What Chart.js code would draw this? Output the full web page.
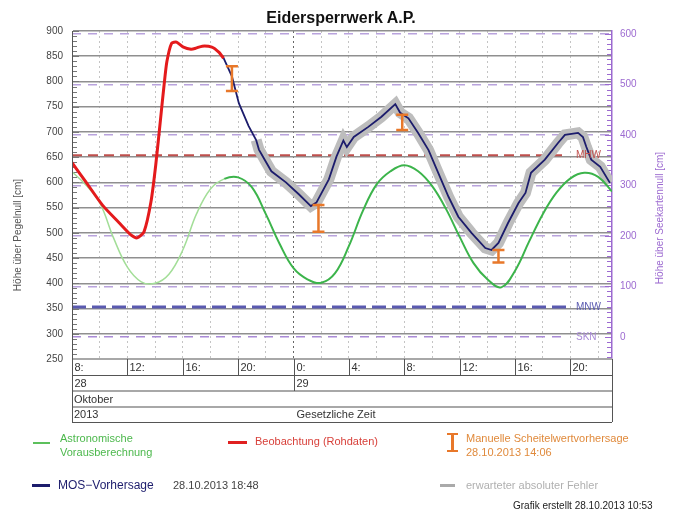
<!DOCTYPE html>
<html>
<head>
<meta charset="utf-8">
<title>Eidersperrwerk A.P.</title>
<script src="https://cdn.jsdelivr.net/npm/chart.js@4.4.1/dist/chart.umd.min.js"></script>
<style>
  body { margin: 0; background: #fff; font-family: "Liberation Sans", Arial, sans-serif; }
  #wrap { position: relative; width: 686px; height: 511px; overflow: hidden; }
  #wrap canvas { position: absolute; left: 0; top: 0; }
  .txt { position: absolute; white-space: nowrap; font-size: 11px; line-height: 14px; }
  .sw { position: absolute; }
</style>
</head>
<body>
<div id="wrap">
  <canvas id="chart" width="686" height="511"></canvas>
  <div class="txt" style="left:0; width:682px; top:9px; text-align:center; font-size:16px; line-height:18px; font-weight:bold; color:#111;">Eidersperrwerk A.P.</div>

  <div class="sw" style="left:33px; top:442px; width:17px; height:2px; background:#5cc05c;"></div>
  <div class="txt" style="left:60px; top:431px; color:#4cb84c;">Astronomische<br>Vorausberechnung</div>

  <div class="sw" style="left:228px; top:441px; width:19px; height:3px; background:#e02020;"></div>
  <div class="txt" style="left:255px; top:434px; color:#d8403a;">Beobachtung (Rohdaten)</div>

  <div class="sw" style="left:447px; top:433px; width:11px; height:2px; background:#e8782a;"></div>
  <div class="sw" style="left:451px; top:433px; width:3px; height:19px; background:#e8782a;"></div>
  <div class="sw" style="left:447px; top:450px; width:11px; height:2px; background:#e8782a;"></div>
  <div class="txt" style="left:466px; top:431px; color:#e08a3c;">Manuelle Scheitelwertvorhersage<br>28.10.2013 14:06</div>

  <div class="sw" style="left:32px; top:484px; width:18px; height:3px; background:#1c1c6c;"></div>
  <div class="txt" style="left:58px; top:478px; color:#1c1c6c; font-size:12px;">MOS−Vorhersage</div>
  <div class="txt" style="left:173px; top:478px; color:#444;">28.10.2013 18:48</div>

  <div class="sw" style="left:440px; top:484px; width:15px; height:3px; background:#aaa;"></div>
  <div class="txt" style="left:466px; top:478px; color:#b0b0b0;">erwarteter absoluter Fehler</div>

  <div class="txt" style="left:513px; top:499px; color:#222; font-size:10px;">Grafik erstellt 28.10.2013 10:53</div>
</div>

<script>
'use strict'

// hours counted from 28.10.2013 00:00
let astroHours = [8, 9, 10, 11, 12, 13, 14, 15, 16, 17, 18, 19, 20, 21, 22, 23, 24, 25, 26, 27,
    28, 29, 30, 31, 32, 33, 34, 35, 36, 37, 38, 39, 40, 41, 42, 43, 44, 45, 46, 47];
let astroLevels = [621, 595, 560, 490, 432, 403, 400, 418, 466, 538, 587, 607, 610, 590, 537, 478, 430, 408, 401, 420,
    474, 543, 596, 622, 634, 622, 593, 548, 492, 440, 408, 392, 425, 482, 537, 580, 608, 619, 611, 582];

let obsHours = [8, 9, 10.2, 11.4, 12.25, 12.7, 13.2, 13.7, 14.05, 14.4, 14.65, 14.85, 15.2, 15.55,
    16.05, 16.6, 16.95, 17.4, 18.1, 18.6, 18.95];
let obsLevels = [639, 601, 555, 520, 496, 490, 502, 561, 635, 727, 793, 839, 876, 878,
    868, 864, 866, 870, 868, 858, 846];

let mosHours = [18.95, 19.55, 20.05, 20.75, 21.3, 21.5, 22, 22.4, 23.45, 24.4, 25.25, 25.65, 26.55, 27.1,
    27.6, 27.85, 28.35, 29.4, 30.35, 31.35, 31.7, 32.3, 33, 33.75, 34.45, 35.2, 35.9, 36.85, 37.85, 38.3,
    38.8, 39.5, 40.25, 40.75, 41.15, 42.15, 43.1, 43.6, 44.55, 44.9, 45.15, 45.5, 46.15, 46.85];
let mosLevels = [846, 810, 757, 712, 684, 665, 641, 622, 600, 576, 553, 560, 606, 651,
    683, 670, 690, 710, 730, 755, 738, 727, 698, 664, 619, 571, 532, 500, 470, 466,
    480, 520, 559, 579, 619, 645, 678, 694, 698, 690, 670, 645, 631, 599];
let errorFromHour = 21.3;

let manualHours = [19.55, 25.8, 31.85, 38.8];
let manualLow = [781, 502, 704, 441];
let manualHigh = [830, 555, 734, 466];

let refNames = ['MHW', 'MNW', 'SKN'];
let refLevels = [654, 353, 0];
let refAxes = ['y', 'y', 'y2'];

let leftTicks = [250, 300, 350, 400, 450, 500, 550, 600, 650, 700, 750, 800, 850, 900];
let rightTicks = [0, 100, 200, 300, 400, 500, 600];
let hourTicks = [8, 12, 16, 20, 24, 28, 32, 36, 40, 44];
let hourLabels = ['8:', '12:', '16:', '20:', '0:', '4:', '8:', '12:', '16:', '20:'];
let dayTicks = [8, 24];
let dayLabels = ['28', '29'];

const purple = '#9c6ad0';
const refStyle = {
    MHW: { color: '#c0504d', width: 2, dash: [10, 6] },
    MNW: { color: '#5a5ab0', width: 3, dash: [14, 6] },
    SKN: { color: '#a98ad6', width: 1.5, dash: [9, 7] }
};

function xy(hours, levels) {
    return hours.map((h, i) => ({ x: h, y: levels[i] }));
}

function refPixel(chart, i) {
    let scale = refAxes[i] === 'y2' ? chart.scales.y2 : chart.scales.y;
    return scale.getPixelForValue(refLevels[i]);
}

const tideExtras = {
    id: 'tideExtras',
    beforeDatasetsDraw(chart) {
        const { ctx, chartArea: a, scales: { y, y2 } } = chart;
        ctx.save();
        // minor ticks
        ctx.lineWidth = 1;
        ctx.strokeStyle = '#777';
        for (let v = 250; v <= 900; v += 10) {
            let py = Math.round(y.getPixelForValue(v)) + 0.5;
            ctx.beginPath(); ctx.moveTo(a.left, py); ctx.lineTo(a.left + (v % 50 === 0 ? 7 : 5), py); ctx.stroke();
        }
        ctx.strokeStyle = purple;
        for (let v = -40; v <= 600; v += 10) {
            let py = Math.round(y2.getPixelForValue(v)) + 0.5;
            ctx.beginPath(); ctx.moveTo(a.right, py); ctx.lineTo(a.right - (v % 100 === 0 ? 7 : 5), py); ctx.stroke();
        }
        // reference levels
        refNames.forEach((name, i) => {
            let s = refStyle[name];
            let py = refPixel(chart, i);
            ctx.strokeStyle = s.color;
            ctx.lineWidth = s.width;
            ctx.setLineDash(s.dash);
            ctx.beginPath(); ctx.moveTo(a.left, py); ctx.lineTo(a.right - 46, py); ctx.stroke();
        });
        ctx.restore();
    },
    afterDatasetsDraw(chart) {
        const { ctx, chartArea: a, scales: { x, y } } = chart;
        ctx.save();
        ctx.font = '10px "Liberation Sans", Arial, sans-serif';
        ctx.textBaseline = 'middle';
        refNames.forEach((name, i) => {
            ctx.fillStyle = refStyle[name].color;
            ctx.fillText(name, a.right - 36, refPixel(chart, i));
        });
        ctx.strokeStyle = '#e8782a';
        ctx.lineWidth = 2.5;
        manualHours.forEach((h, i) => {
            let px = x.getPixelForValue(h);
            let top = y.getPixelForValue(manualHigh[i]);
            let bot = y.getPixelForValue(manualLow[i]);
            ctx.beginPath();
            ctx.moveTo(px, top); ctx.lineTo(px, bot);
            ctx.moveTo(px - 6, top); ctx.lineTo(px + 6, top);
            ctx.moveTo(px - 6, bot); ctx.lineTo(px + 6, bot);
            ctx.stroke();
        });
        ctx.restore();
    },
    afterDraw(chart) {
        const { ctx, chartArea: a, scales: { x } } = chart;
        let rows = [a.bottom, a.bottom + 16, a.bottom + 32, a.bottom + 48, a.bottom + 63];
        ctx.save();
        // row separators
        ctx.strokeStyle = '#a8a8a8';
        ctx.lineWidth = 2;
        [rows[0], rows[2], rows[3]].forEach(r => {
            ctx.beginPath(); ctx.moveTo(a.left, r); ctx.lineTo(a.right, r); ctx.stroke();
        });
        ctx.strokeStyle = '#555';
        ctx.lineWidth = 1;
        ctx.beginPath();
        ctx.moveTo(a.left, rows[1] + 0.5); ctx.lineTo(a.right, rows[1] + 0.5);
        ctx.moveTo(a.left, rows[4] + 0.5); ctx.lineTo(a.right, rows[4] + 0.5);
        ctx.moveTo(a.left + 0.5, a.top); ctx.lineTo(a.left + 0.5, rows[4]);
        ctx.moveTo(a.right + 0.5, rows[0]); ctx.lineTo(a.right + 0.5, rows[4]);
        ctx.stroke();

        ctx.font = '11px "Liberation Sans", Arial, sans-serif';
        ctx.textBaseline = 'middle';
        ctx.fillStyle = '#333';
        hourTicks.forEach((h, i) => {
            let px = Math.round(x.getPixelForValue(h)) + 0.5;
            ctx.beginPath(); ctx.moveTo(px, rows[0]); ctx.lineTo(px, rows[1]); ctx.stroke();
            ctx.fillText(hourLabels[i], px + 2, rows[0] + 9);
        });
        dayTicks.forEach((h, i) => {
            let px = Math.round(x.getPixelForValue(h)) + 0.5;
            ctx.beginPath(); ctx.moveTo(px, rows[0]); ctx.lineTo(px, rows[2]); ctx.stroke();
            ctx.fillText(dayLabels[i], px + 2, rows[1] + 9);
        });
        ctx.fillText('Oktober', a.left + 2, rows[2] + 9);
        ctx.fillText('2013', a.left + 2, rows[3] + 8);
        ctx.textAlign = 'center';
        ctx.fillText('Gesetzliche Zeit', (a.left + a.right) / 2 - 6, rows[3] + 8);

        // axis titles
        ctx.font = '10px "Liberation Sans", Arial, sans-serif';
        ctx.save();
        ctx.translate(18, 235);
        ctx.rotate(-Math.PI / 2);
        ctx.fillStyle = '#555';
        ctx.fillText('Höhe über Pegelnull [cm]', 0, 0);
        ctx.restore();
        ctx.save();
        ctx.translate(660, 218);
        ctx.rotate(-Math.PI / 2);
        ctx.fillStyle = purple;
        ctx.fillText('Höhe über Seekartennull [cm]', 0, 0);
        ctx.restore();
        ctx.restore();
    }
};

Chart.defaults.font.family = '"Liberation Sans", Arial, sans-serif';

window.onload = function () {
    let canvas = document.getElementById('chart');
    new Chart(canvas, {
        type: 'line',
        data: {
            datasets: [
                {
                    label: 'erwarteter absoluter Fehler',
                    data: xy(mosHours, mosLevels).filter(p => p.x >= errorFromHour),
                    borderColor: '#bdbdbd',
                    borderWidth: 11,
                    borderCapStyle: 'butt',
                    pointRadius: 0,
                    tension: 0,
                    order: 4
                },
                {
                    label: 'Astronomische Vorausberechnung',
                    data: xy(astroHours, astroLevels),
                    borderColor: '#3cb44b',
                    borderWidth: 2,
                    pointRadius: 0,
                    tension: 0.4,
                    segment: {
                        borderColor: c => c.p0.parsed.x < 19 ? '#a3de98' : '#3cb44b',
                        borderWidth: c => c.p0.parsed.x < 19 ? 1.5 : 2
                    },
                    order: 3
                },
                {
                    label: 'Beobachtung (Rohdaten)',
                    data: xy(obsHours, obsLevels),
                    borderColor: '#e41a1c',
                    borderWidth: 3,
                    pointRadius: 0,
                    tension: 0.2,
                    order: 2
                },
                {
                    label: 'MOS-Vorhersage',
                    data: xy(mosHours, mosLevels),
                    borderColor: '#1c1c6c',
                    borderWidth: 1.8,
                    pointRadius: 0,
                    tension: 0,
                    order: 1
                }
            ]
        },
        options: {
            responsive: false,
            animation: false,
            devicePixelRatio: 1,
            layout: { padding: { top: 31, left: 0, right: 0, bottom: 0 } },
            plugins: { legend: { display: false }, tooltip: { enabled: false } },
            scales: {
                x: {
                    type: 'linear',
                    min: 8,
                    max: 47,
                    afterBuildTicks: s => {
                        let t = [];
                        for (let h = 10; h < 47; h += 2) t.push({ value: h });
                        s.ticks = t;
                    },
                    afterFit: s => { s.height = 152; },
                    ticks: { display: false },
                    border: { display: false, dash: [2, 3] },
                    grid: {
                        drawTicks: false,
                        color: c => c.tick && c.tick.value === 24 ? '#666' : '#c4c4c4',
                        lineWidth: 1
                    }
                },
                y: {
                    position: 'left',
                    min: 250,
                    max: 900,
                    afterBuildTicks: s => { s.ticks = leftTicks.map(v => ({ value: v })); },
                    afterFit: s => { s.width = 72; },
                    ticks: { color: '#444', font: { size: 10 }, padding: 9 },
                    border: { display: true, color: '#666', width: 1 },
                    grid: { drawTicks: false, color: '#8f8f8f', lineWidth: 1.5 }
                },
                y2: {
                    position: 'right',
                    min: -44,
                    max: 606,
                    afterBuildTicks: s => { s.ticks = rightTicks.map(v => ({ value: v })); },
                    afterFit: s => { s.width = 74; },
                    ticks: { color: purple, font: { size: 10 }, padding: 8 },
                    border: { display: true, color: purple, width: 1.5, dash: [9, 7] },
                    grid: {
                        drawTicks: false,
                        color: c => c.tick && c.tick.value === 0 ? 'rgba(0,0,0,0)' : '#b9a3dd',
                        lineWidth: 1.5
                    }
                }
            }
        },
        plugins: [tideExtras]
    });
};
</script>
</body>
</html>
